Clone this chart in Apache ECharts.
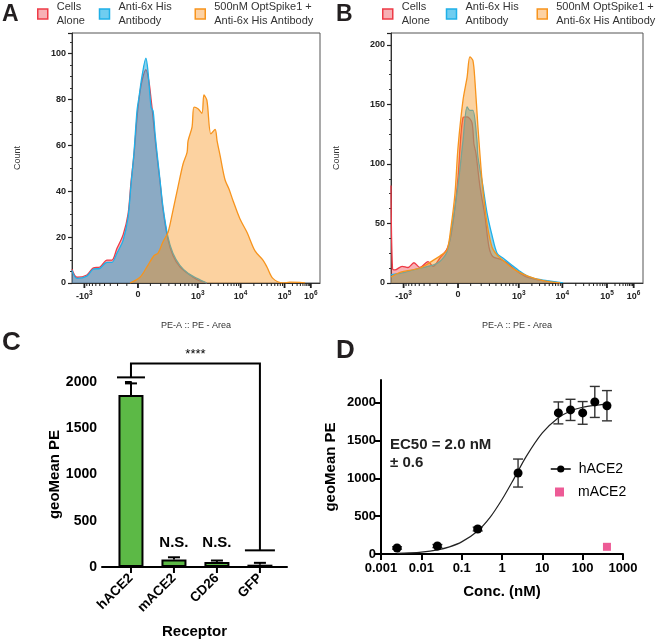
<!DOCTYPE html>
<html>
<head>
<meta charset="utf-8">
<script src="https://cdn.jsdelivr.net/npm/echarts@6/dist/echarts.min.js"></script>
<style>
  html, body { margin: 0; padding: 0; background: #fff; }
  #chart { width: 658px; height: 640px; }
</style>
</head>
<body>
<div id="chart"></div>
<script>
// --- histogram data (x = display channel 0-1000 of the biexponential PE axis, y = count)
const peTicks = [50, 266, 507, 680, 857, 963]
const peTickLabels = ['-10^3', '0', '10^3', '10^4', '10^5', '10^6']
const histNames = ['Cells\nAlone', 'Anti-6x His\nAntibody', '500nM OptSpike1 +\nAnti-6x His Antibody']

const aCells = [[0,6],[20,2.5],[60,3.5],[85,6.5],[113,7],[141,10],[161,10],[181,15],[206,21],[226,30],[238,44],[250,56],[262,72],[270,80],[282,88],[298,93],[310,88],[319,80],[327,72],[335,63],[343,55],[355,44],[367,32],[387,19],[407,12],[435,7],[468,4],[504,1.5],[544,0]]
const aAnti = [[0,5.5],[20,2],[60,3],[85,6],[113,6.4],[141,9],[161,9],[181,13],[206,18.6],[226,28.6],[238,43],[250,57],[262,75],[270,81],[282,90],[298,98],[306,92.7],[319,76.6],[327,75],[335,65],[343,56.5],[355,44.8],[367,33],[387,20],[407,13],[435,7.7],[468,4.2],[504,2],[544,0]]
const aSpike = [[234,0],[274,2.5],[302,7],[331,12],[347,13],[367,18],[387,22],[407,31.6],[427,41.7],[448,52],[464,57],[468,62],[484,68],[492,76.7],[508,76],[524,74],[532,82],[544,79.6],[560,65],[577,67],[585,62],[597,55.6],[617,45],[633,41],[649,36],[677,28],[706,22],[738,14],[770,10],[786,7],[810,2],[851,0],[879,0.4],[919,0.3],[940,0]]

const bCells = [[0,82],[6,12],[16,11],[44,14],[67,13],[91,17],[115,13],[147,18],[167,14],[194,21],[222,28.5],[238,40],[254,64],[266,89],[286,139],[302,139.5],[321,135],[329,117],[337,109],[353,81],[373,56],[389,30],[405,22],[433,20],[460,17],[500,10],[540,5],[603,2],[671,0]]
const bAnti = [[0,7],[36,8],[115,12.5],[167,15],[194,18],[222,26],[238,42],[254,64],[270,89],[286,120],[302,148],[313,145],[325,145],[341,120],[345,106],[365,81],[381,59],[401,40],[421,25],[444,21],[480,15],[520,8.6],[563,4],[619,2],[683,0]]
const bSpike = [[0,5],[36,9],[115,12.6],[167,19],[194,22.7],[222,27.7],[238,47],[254,75.6],[266,114],[286,154],[302,173],[313,190],[325,187],[333,170],[345,131],[357,97],[365,78],[381,50],[401,30],[421,23.5],[452,17.6],[492,11],[540,6],[603,2],[671,0]]

// --- panel C
const receptors = ['hACE2', 'mACE2', 'CD26', 'GFP']
const geoMeanPE = [1860, 80, 55, 25]
const geoMeanErr = [125, 25, 15, 20]
const sigLabels = ['', 'N.S.', 'N.S.', '']
const sigBracket = [0, 3, 2050, 180, 2200] // from, to, left foot, right foot, top

// --- panel D
const conc = [0.0025, 0.025, 0.25, 2.5, 25, 50, 100, 200, 400]
const hace2Mean = [80, 105, 330, 1070, 1865, 1905, 1865, 2010, 1960]
const hace2Err = [15, 20, 25, 185, 145, 140, 150, 205, 200]
const mace2Conc = [400]
const mace2Mean = [95]
const fitConc = [0.0025, 0.005, 0.01, 0.025, 0.05, 0.1, 0.25, 0.5, 1, 2, 4, 10, 25, 50, 100, 200, 400]
const fitPE = [8, 14, 25, 55, 95, 160, 305, 480, 720, 1000, 1290, 1600, 1800, 1890, 1940, 1965, 1980]

const strokes = ['#ee3b47', '#1fb0e8', '#f7941d']
const fills = ['rgba(238,60,70,0.4)', 'rgba(31,163,211,0.5)', 'rgba(247,148,29,0.42)']
const swatches = ['#f7b0b5', '#6fcdf0', '#fdd2a4']
const arial = 'Liberation Sans, Arial, sans-serif'

// tick marks of the biexponential axis: [position, length, width]
const peTickMarks = peTicks.map(v => [v, 5, 1.8])
for (let k = 0; k < 3; k++) {
  const c0 = peTicks[2 + k], c1 = peTicks[3 + k]
  for (let m = 2; m <= 9; m++) peTickMarks.push([c0 + (c1 - c0) * Math.log10(m), 3, 1])
}
for (let m = 1; m <= 9; m++) {
  const f = Math.asinh(m * 100 / 200) / Math.asinh(1000 / 200)
  peTickMarks.push([peTicks[1] + (peTicks[2] - peTicks[1]) * f, 3, 1])
  peTickMarks.push([peTicks[1] - (peTicks[1] - peTicks[0]) * f, 3, 1])
}

const chart = echarts.init(document.getElementById('chart'))

const plain = v => String(v)

const histX = (grid) => ({
  type: 'value', gridIndex: grid, min: 0, max: 1000,
  axisLine: { lineStyle: { color: '#333', width: 1 } },
  axisTick: { show: false },
  axisLabel: {
    customValues: peTicks,
    formatter: v => peTickLabels[peTicks.indexOf(v)].replace(/\^(\d)/, '{s|$1}'),
    fontSize: 9, fontWeight: 'bold', color: '#222', fontFamily: arial, margin: 7,
    rich: { s: { fontSize: 6.5, fontWeight: 'bold', color: '#222', fontFamily: arial, padding: [0, 0, 6, 0], verticalAlign: 'bottom' } }
  },
  splitLine: { show: false },
  name: 'PE-A :: PE - Area', nameLocation: 'middle', nameGap: 38,
  nameTextStyle: { fontSize: 9, color: '#333', fontFamily: arial }
})

const histY = (grid, max, interval) => ({
  type: 'value', gridIndex: grid, min: 0, max, interval,
  axisLine: { show: true, lineStyle: { color: '#333' } },
  axisTick: { show: true, length: 4, lineStyle: { color: '#222', width: 1.2 } },
  minorTick: { show: true, splitNumber: 4, length: 2, lineStyle: { color: '#333' } },
  axisLabel: { fontSize: 9, fontWeight: 'bold', color: '#222', fontFamily: arial, margin: 6, showMaxLabel: false, formatter: plain },
  splitLine: { show: false },
  name: 'Count', nameLocation: 'middle', nameGap: 50,
  nameTextStyle: { fontSize: 9, color: '#333', fontFamily: arial }
})

const histSeries = (data, i, xIdx, yIdx) => ({
  name: histNames[i], type: 'line', xAxisIndex: xIdx, yAxisIndex: yIdx,
  data, symbol: 'none', smooth: 0.3,
  lineStyle: { color: strokes[i], width: 1.3 },
  itemStyle: { color: strokes[i] },
  areaStyle: { color: fills[i], opacity: 1 },
  z: 2 + i
})

const histLegend = (left, widths) => ({
  left, top: 0, width: 320, padding: 0, orient: 'horizontal', itemGap: 0, itemWidth: 10, itemHeight: 10,
  selectedMode: false,
  data: histNames.map((n, i) => ({
    name: n, icon: 'rect',
    itemStyle: { color: swatches[i], borderColor: strokes[i], borderWidth: 1.5 },
    textStyle: { width: widths[i], padding: [0, 0, 0, 4] }
  })),
  textStyle: { fontSize: 11, lineHeight: 14, color: '#333', fontFamily: arial }
})

const axisBlack = { lineStyle: { color: '#000', width: 2 } }

const labels = [
  { type: 'text', left: 2, top: 3, style: { text: 'A', font: 'bold 23px ' + arial, fill: '#231f20' } },
  { type: 'text', left: 336, top: 3, style: { text: 'B', font: 'bold 23px ' + arial, fill: '#231f20' } },
  { type: 'text', left: 2, top: 330, style: { text: 'C', font: 'bold 26px ' + arial, fill: '#231f20' } },
  { type: 'text', left: 336, top: 338, style: { text: 'D', font: 'bold 26px ' + arial, fill: '#231f20' } },
  { type: 'text', left: 390, top: 437, style: { text: 'EC50 = 2.0 nM', font: 'bold 15px ' + arial, fill: '#222' } },
  { type: 'text', left: 390, top: 455, style: { text: '± 0.6', font: 'bold 15px ' + arial, fill: '#222' } }
]

const option = {
  animation: false,
  grid: [
    { left: 72, top: 33, width: 248, height: 250, show: true, borderColor: '#555', borderWidth: 1 },
    { left: 391, top: 33, width: 252, height: 250, show: true, borderColor: '#555', borderWidth: 1 },
    { left: 102, top: 382, width: 185, height: 185 },
    { left: 381, top: 380, width: 242, height: 174 }
  ],
  legend: [
    histLegend(37, [42, 76, 130]),
    histLegend(382, [44, 71, 130]),
    {
      left: 550, top: 462, padding: 0, itemWidth: 20, itemHeight: 9, selectedMode: false,
      data: [{ name: 'hACE2', lineStyle: { opacity: 1, width: 1.5, color: '#000' } }],
      textStyle: { fontSize: 14, color: '#000', fontFamily: arial, padding: [0, 0, 0, 3] }
    },
    {
      left: 555, top: 485, padding: 0, itemWidth: 9, itemHeight: 9, selectedMode: false,
      data: [{ name: 'mACE2', icon: 'rect' }],
      textStyle: { fontSize: 14, color: '#000', fontFamily: arial, padding: [0, 0, 0, 9] }
    }
  ],
  xAxis: [
    histX(0),
    histX(1),
    {
      type: 'value', gridIndex: 2, min: -0.674, max: 3.63,
      axisLine: axisBlack,
      axisTick: { show: false },
      axisLabel: {
        customValues: [0, 1, 2, 3], formatter: v => receptors[v], rotate: 45,
        fontSize: 13.5, fontWeight: 'bold', color: '#000', fontFamily: arial, margin: 9
      },
      splitLine: { show: false },
      name: 'Receptor', nameLocation: 'middle', nameGap: 57,
      nameTextStyle: { fontSize: 15, fontWeight: 'bold', color: '#000', fontFamily: arial }
    },
    {
      type: 'log', logBase: 10, gridIndex: 3, min: 0.001, max: 1000,
      axisLine: axisBlack,
      axisTick: { length: 6, lineStyle: { color: '#000', width: 2 } },
      axisLabel: {
        formatter: v => String(+(+v).toPrecision(3)),
        fontSize: 13, fontWeight: 'bold', color: '#000', fontFamily: arial, margin: 8
      },
      splitLine: { show: false }, minorTick: { show: false },
      name: 'Conc. (nM)', nameLocation: 'middle', nameGap: 30,
      nameTextStyle: { fontSize: 15, fontWeight: 'bold', color: '#000', fontFamily: arial }
    }
  ],
  yAxis: [
    histY(0, 109, 20),
    histY(1, 210, 50),
    {
      type: 'value', gridIndex: 2, min: 0, max: 2000, interval: 500,
      axisLine: { show: true, ...axisBlack },
      axisTick: { show: true, length: 6, lineStyle: { color: '#000', width: 2 } },
      axisLabel: { fontSize: 14, fontWeight: 'bold', color: '#000', fontFamily: arial, margin: 5, formatter: plain },
      splitLine: { show: false },
      name: 'geoMean PE', nameLocation: 'middle', nameGap: 39,
      nameTextStyle: { fontSize: 15, fontWeight: 'bold', color: '#000', fontFamily: arial }
    },
    {
      type: 'value', gridIndex: 3, min: 0, max: 2300, interval: 500,
      axisLine: { show: true, ...axisBlack },
      axisTick: { show: true, length: 6, lineStyle: { color: '#000', width: 2 } },
      axisLabel: { fontSize: 13, fontWeight: 'bold', color: '#000', fontFamily: arial, margin: 5, formatter: plain, showMaxLabel: false },
      splitLine: { show: false },
      name: 'geoMean PE', nameLocation: 'middle', nameGap: 43,
      nameTextStyle: { fontSize: 15, fontWeight: 'bold', color: '#000', fontFamily: arial }
    }
  ],
  series: [
    histSeries(aCells, 0, 0, 0),
    histSeries(aAnti, 1, 0, 0),
    histSeries(aSpike, 2, 0, 0),
    histSeries(bCells, 0, 1, 1),
    histSeries(bAnti, 1, 1, 1),
    histSeries(bSpike, 2, 1, 1),
    // panel C bars
    {
      type: 'bar', xAxisIndex: 2, yAxisIndex: 2, barWidth: 25,
      data: receptors.map((r, i) => [i, geoMeanPE[i]]),
      itemStyle: { color: '#5cb946', borderColor: '#000', borderWidth: 2 },
      z: 3
    },
    // panel C error bars + N.S.
    {
      type: 'custom', xAxisIndex: 2, yAxisIndex: 2, z: 4, clip: false,
      data: receptors.map((r, i) => [i, geoMeanPE[i], geoMeanErr[i]]),
      renderItem: (params, api) => {
        const x = api.value(0), m = api.value(1), e = api.value(2)
        const base = api.coord([x, m]), top = api.coord([x, m + e])
        const st = { stroke: '#000', lineWidth: 2 }
        const kids = [
          { type: 'line', shape: { x1: base[0], y1: base[1], x2: top[0], y2: top[1] }, style: st },
          { type: 'line', shape: { x1: top[0] - 6, y1: top[1], x2: top[0] + 6, y2: top[1] }, style: st }
        ]
        const lab = sigLabels[params.dataIndex]
        if (lab) {
          const p = api.coord([x, 260])
          kids.push({ type: 'text', x: p[0], y: p[1], style: {
            text: lab, fill: '#000', font: 'bold 15px ' + arial, align: 'center', verticalAlign: 'middle' } })
        }
        return { type: 'group', children: kids }
      }
    },
    // panel C significance bracket
    {
      type: 'custom', xAxisIndex: 2, yAxisIndex: 2, z: 4, clip: false,
      data: [sigBracket],
      renderItem: (params, api) => {
        const a = api.value(0), b = api.value(1)
        const lf = api.coord([a, api.value(2)]), rf = api.coord([b, api.value(3)])
        const lt = api.coord([a, api.value(4)]), rt = api.coord([b, api.value(4)])
        const st = { stroke: '#000', lineWidth: 2, fill: null }
        return { type: 'group', children: [
          { type: 'polyline', shape: { points: [lf, lt, rt, rf] }, style: st },
          { type: 'line', shape: { x1: lf[0] - 14, y1: lf[1], x2: lf[0] + 14, y2: lf[1] }, style: st },
          { type: 'line', shape: { x1: rf[0] - 15, y1: rf[1], x2: rf[0] + 15, y2: rf[1] }, style: st },
          { type: 'text', x: (lt[0] + rt[0]) / 2, y: lt[1] - 9, style: {
            text: '****', fill: '#000', font: '13px ' + arial, align: 'center', verticalAlign: 'middle' } }
        ] }
      }
    },
    // panel D fit curve
    {
      name: 'fit', type: 'line', xAxisIndex: 3, yAxisIndex: 3, smooth: 0.3, symbol: 'none',
      data: fitConc.map((c, i) => [c, fitPE[i]]),
      lineStyle: { color: '#222', width: 1.2 }, z: 2
    },
    // panel D error bars
    {
      type: 'custom', xAxisIndex: 3, yAxisIndex: 3, z: 3, clip: false,
      data: conc.map((c, i) => [c, hace2Mean[i], hace2Err[i]]),
      renderItem: (params, api) => {
        const x = api.value(0), m = api.value(1), e = api.value(2)
        const lo = api.coord([x, m - e]), hi = api.coord([x, m + e])
        const st = { stroke: '#333', lineWidth: 1.4 }
        return { type: 'group', children: [
          { type: 'line', shape: { x1: lo[0], y1: lo[1], x2: hi[0], y2: hi[1] }, style: st },
          { type: 'line', shape: { x1: hi[0] - 5, y1: hi[1], x2: hi[0] + 5, y2: hi[1] }, style: st },
          { type: 'line', shape: { x1: lo[0] - 5, y1: lo[1], x2: lo[0] + 5, y2: lo[1] }, style: st }
        ] }
      }
    },
    {
      name: 'hACE2', type: 'line', xAxisIndex: 3, yAxisIndex: 3,
      data: conc.map((c, i) => [c, hace2Mean[i]]),
      symbol: 'circle', symbolSize: 9, itemStyle: { color: '#000' },
      lineStyle: { opacity: 0 }, z: 4
    },
    {
      name: 'mACE2', type: 'scatter', xAxisIndex: 3, yAxisIndex: 3,
      data: mace2Conc.map((c, i) => [c, mace2Mean[i]]),
      symbol: 'rect', symbolSize: 8, itemStyle: { color: '#e8327c' }, z: 4
    }
  ],
  graphic: labels
}

chart.setOption(option)

// x tick marks placed through the axes' own scales once the chart is laid out
try {
  const ticks = []
  const addTicks = (grid, marks, color) => {
    marks.forEach(([v, len, w]) => {
      const p = chart.convertToPixel({ xAxisIndex: grid, yAxisIndex: grid }, [v, 0])
      if (p && isFinite(p[0])) {
        ticks.push({ type: 'line', z: 100, silent: true,
          shape: { x1: p[0], y1: p[1], x2: p[0], y2: p[1] + len },
          style: { stroke: color, lineWidth: w } })
      }
    })
  }
  addTicks(0, peTickMarks, '#222')
  addTicks(1, peTickMarks, '#222')
  addTicks(2, receptors.map((r, i) => [i, 6, 2]), '#000')
  chart.setOption({ graphic: labels.concat(ticks) })
} catch (e) {
  console.error(e)
}
</script>
</body>
</html>
